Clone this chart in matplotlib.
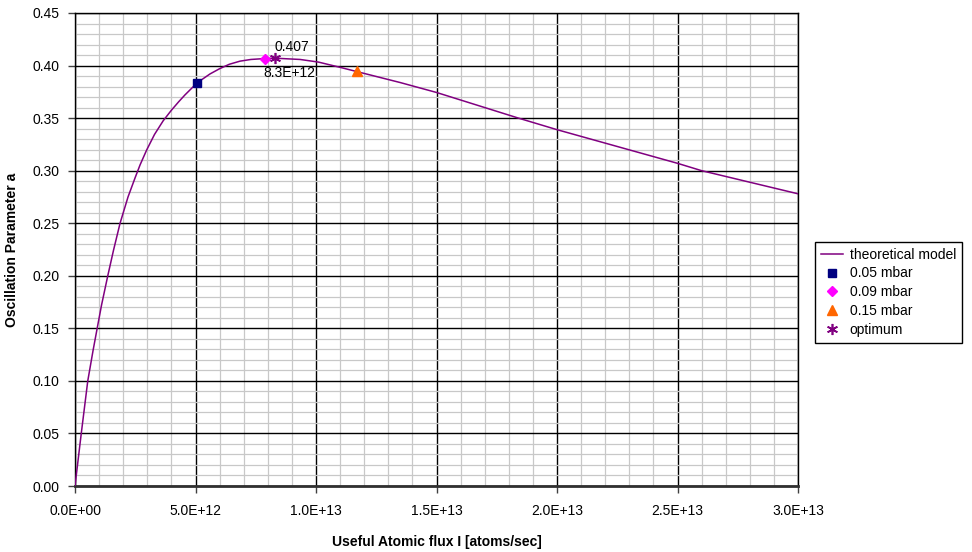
import matplotlib
matplotlib.use("Agg")
import matplotlib.pyplot as plt
from matplotlib.ticker import MultipleLocator, FuncFormatter

plt.rcParams['font.family'] = ['Liberation Sans', 'DejaVu Sans']

# theoretical model curve
flux = [0, 0.26e12, 0.53e12, 0.75e12, 0.92e12, 1.1e12, 1.36e12, 1.6e12,
        1.87e12, 2.2e12, 2.49e12, 2.7e12, 2.97e12, 3.3e12, 3.66e12, 4.0e12,
        4.3e12, 4.56e12, 5.07e12, 5.6e12, 6.0e12, 6.4e12, 6.85e12, 7.3e12,
        7.9e12, 8.3e12, 9.34e12, 1.01e13, 1.1e13, 1.2e13, 1.35e13, 1.5e13,
        1.84e13, 2.0e13, 2.5e13, 2.6e13, 3.0e13]
osc = [0, 0.05, 0.10, 0.129, 0.15, 0.172, 0.20, 0.2245,
       0.25, 0.275, 0.293, 0.3055, 0.3195, 0.3345, 0.3475, 0.3575,
       0.3655, 0.372, 0.3836, 0.392, 0.397, 0.4012, 0.4042, 0.4058,
       0.4067, 0.4070, 0.4058, 0.4033, 0.3983, 0.3925, 0.3838, 0.3744,
       0.350, 0.339, 0.307, 0.300, 0.278]

# measurements
meas_labels = ["0.05 mbar", "0.09 mbar", "0.15 mbar"]
meas_flux = [5.07e12, 7.9e12, 1.17e13]
meas_osc = [0.3836, 0.4067, 0.395]

opt_flux = 8.3e12
opt_osc = 0.407

fig = plt.figure(figsize=(9.72, 5.52), dpi=100)
ax = fig.add_axes([75 / 972, 1 - 486 / 552, 723 / 972, 473 / 552])

ax.plot(flux, osc, color="#800080", lw=1.1, label="theoretical model", zorder=3)
ax.plot(meas_flux[0], meas_osc[0], ls="none", marker="s", ms=6,
        color="#000080", label=meas_labels[0], zorder=4)
ax.plot(meas_flux[1], meas_osc[1], ls="none", marker="D", ms=5,
        color="#FF00FF", label=meas_labels[1], zorder=4)
ax.plot(meas_flux[2], meas_osc[2], ls="none", marker="^", ms=7,
        color="#FF6600", label=meas_labels[2], zorder=4)
ax.plot(opt_flux, opt_osc, ls="none", marker=(6, 2, 0), ms=8, mew=1.2,
        color="#800080", label="optimum", zorder=4)

ax.annotate(f"{opt_osc:.3f}", (opt_flux, opt_osc), xytext=(12, 8),
            textcoords="offset points", ha="center", va="center", fontsize=10)
ax.annotate(f"{opt_flux:.1E}", (opt_flux, opt_osc), xytext=(10, -11),
            textcoords="offset points", ha="center", va="center", fontsize=10)

ax.set_xlim(0, 3e13)
ax.set_ylim(0, 0.45)
ax.xaxis.set_major_locator(MultipleLocator(5e12))
ax.xaxis.set_minor_locator(MultipleLocator(1e12))
ax.yaxis.set_major_locator(MultipleLocator(0.05))
ax.yaxis.set_minor_locator(MultipleLocator(0.01))
ax.xaxis.set_major_formatter(FuncFormatter(lambda v, p: f"{v:.1E}"))
ax.yaxis.set_major_formatter(FuncFormatter(lambda v, p: f"{v:.2f}"))

ax.grid(which="minor", color="#c8c8c8", lw=0.9, zorder=0)
ax.grid(which="major", color="black", lw=1.0, zorder=1)
ax.set_axisbelow(True)

ax.tick_params(which="major", direction="out", length=5, width=1,
               labelsize=10, color="#404040")
ax.tick_params(which="minor", length=0)
ax.tick_params(axis="x", pad=8)
ax.tick_params(axis="y", pad=6)

for s in ax.spines.values():
    s.set_color("black")
    s.set_linewidth(1)
ax.spines["bottom"].set_color("#303030")
ax.spines["bottom"].set_linewidth(2)

ax.set_xlabel("Useful Atomic flux I [atoms/sec]", fontsize=10,
              fontweight="bold", labelpad=12)
ax.set_ylabel("Oscillation Parameter a", fontsize=10, fontweight="bold",
              labelpad=10)

leg = fig.legend(loc="upper left", bbox_to_anchor=(815 / 972, 1 - 242 / 552),
                 fontsize=10, frameon=True, fancybox=False, framealpha=1,
                 edgecolor="black", borderpad=0.4, labelspacing=0.35,
                 handlelength=1.6, handletextpad=0.5, borderaxespad=0)
leg.get_frame().set_linewidth(1)

fig.savefig("out.png", dpi=100)
